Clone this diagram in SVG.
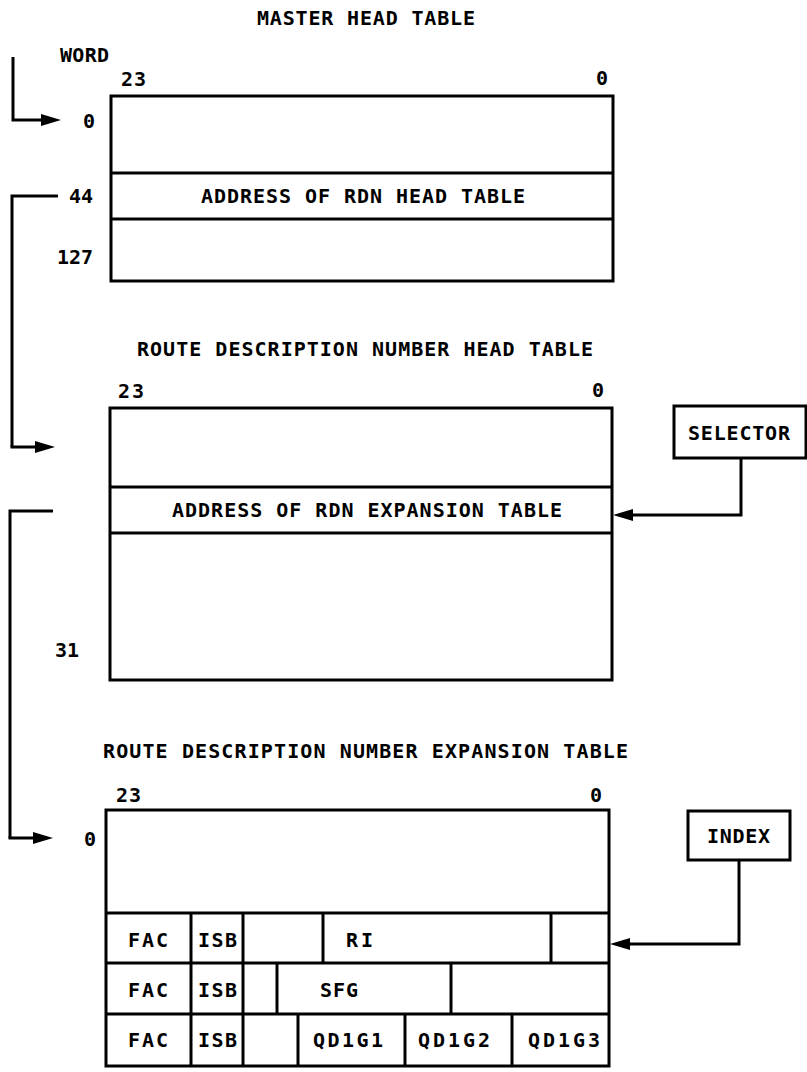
<svg xmlns="http://www.w3.org/2000/svg" width="807" height="1072" viewBox="0 0 807 1072">
<style>
text{font-family:"DejaVu Sans Mono","Liberation Mono",monospace;font-weight:bold;font-size:20px;fill:#000}
.box{fill:#fff;stroke:#000;stroke-width:3}
.ln{fill:none;stroke:#000;stroke-width:3}
.cn{fill:none;stroke:#000;stroke-width:3;marker-end:url(#ah)}
</style>
<defs>
<marker id="ah" viewBox="0 0 20 12" refX="14" refY="6" markerWidth="20" markerHeight="12" markerUnits="userSpaceOnUse" orient="auto">
<path d="M0,0 L20,6 L0,12 z" fill="#000"/>
</marker>
</defs>
<rect width="807" height="1072" fill="#fff"/>

<g id="master-table">
<text x="257" y="25" textLength="218" lengthAdjust="spacing">MASTER HEAD TABLE</text>
<text x="60" y="62" textLength="49" lengthAdjust="spacing">WORD</text>
<text x="121" y="86" textLength="25" lengthAdjust="spacing">23</text>
<text x="596" y="85">0</text>
<text x="83" y="128">0</text>
<text x="69" y="203" textLength="24" lengthAdjust="spacing">44</text>
<text x="57" y="264" textLength="36" lengthAdjust="spacing">127</text>
<rect class="box" x="111" y="96" width="502" height="185"/>
<line class="ln" x1="111" y1="173" x2="613" y2="173"/>
<line class="ln" x1="111" y1="219" x2="613" y2="219"/>
<text x="201" y="203" textLength="324" lengthAdjust="spacing">ADDRESS OF RDN HEAD TABLE</text>
</g>

<g id="rdn-head-table">
<text x="137" y="356" textLength="456" lengthAdjust="spacing">ROUTE DESCRIPTION NUMBER HEAD TABLE</text>
<text x="118" y="398" textLength="26" lengthAdjust="spacing">23</text>
<text x="592" y="397">0</text>
<text x="55" y="657" textLength="24" lengthAdjust="spacing">31</text>
<rect class="box" x="110" y="408" width="502" height="272"/>
<line class="ln" x1="110" y1="487" x2="612" y2="487"/>
<line class="ln" x1="110" y1="533" x2="612" y2="533"/>
<text x="172" y="517" textLength="390" lengthAdjust="spacing">ADDRESS OF RDN EXPANSION TABLE</text>
</g>

<g id="selector">
<rect class="box" x="674" y="406" width="132" height="52"/>
<text x="688" y="440" textLength="102" lengthAdjust="spacing">SELECTOR</text>
</g>

<g id="rdn-expansion-table">
<text x="103" y="758" textLength="525" lengthAdjust="spacing">ROUTE DESCRIPTION NUMBER EXPANSION TABLE</text>
<text x="116" y="802" textLength="25" lengthAdjust="spacing">23</text>
<text x="590" y="802">0</text>
<text x="84" y="846">0</text>
<rect class="box" x="106" y="810" width="503" height="256"/>
<line class="ln" x1="106" y1="913" x2="609" y2="913"/>
<line class="ln" x1="106" y1="963" x2="609" y2="963"/>
<line class="ln" x1="106" y1="1014" x2="609" y2="1014"/>
<line class="ln" x1="191" y1="913" x2="191" y2="1066"/>
<line class="ln" x1="243" y1="913" x2="243" y2="1066"/>
<line class="ln" x1="323" y1="913" x2="323" y2="963"/>
<line class="ln" x1="551" y1="913" x2="551" y2="963"/>
<line class="ln" x1="277" y1="963" x2="277" y2="1014"/>
<line class="ln" x1="451" y1="963" x2="451" y2="1014"/>
<line class="ln" x1="298" y1="1014" x2="298" y2="1066"/>
<line class="ln" x1="405" y1="1014" x2="405" y2="1066"/>
<line class="ln" x1="512" y1="1014" x2="512" y2="1066"/>
<text x="128" y="947" textLength="40" lengthAdjust="spacing">FAC</text>
<text x="198" y="947" textLength="39" lengthAdjust="spacing">ISB</text>
<text x="346" y="947" textLength="27" lengthAdjust="spacing">RI</text>
<text x="128" y="997" textLength="40" lengthAdjust="spacing">FAC</text>
<text x="198" y="997" textLength="39" lengthAdjust="spacing">ISB</text>
<text x="320" y="997" textLength="38" lengthAdjust="spacing">SFG</text>
<text x="128" y="1047" textLength="40" lengthAdjust="spacing">FAC</text>
<text x="198" y="1047" textLength="39" lengthAdjust="spacing">ISB</text>
<text x="313" y="1047" textLength="70" lengthAdjust="spacing">QD1G1</text>
<text x="418" y="1047" textLength="72" lengthAdjust="spacing">QD1G2</text>
<text x="528" y="1047" textLength="72" lengthAdjust="spacing">QD1G3</text>
</g>

<g id="index">
<rect class="box" x="688" y="811" width="102" height="49"/>
<text x="707" y="843" textLength="63" lengthAdjust="spacing">INDEX</text>
</g>

<g id="connectors">
<path class="cn" d="M13,57 V120 H55"/>
<path class="ln" d="M58,196 H12 V447"/>
<path class="cn" d="M12,445.5 V447 H49"/>
<path class="ln" d="M53,511 H10 V838"/>
<path class="cn" d="M10,836.5 V838 H47"/>
<path class="cn" d="M741,458 V515 H619"/>
<path class="cn" d="M739,860 V944 H616"/>
</g>
</svg>
